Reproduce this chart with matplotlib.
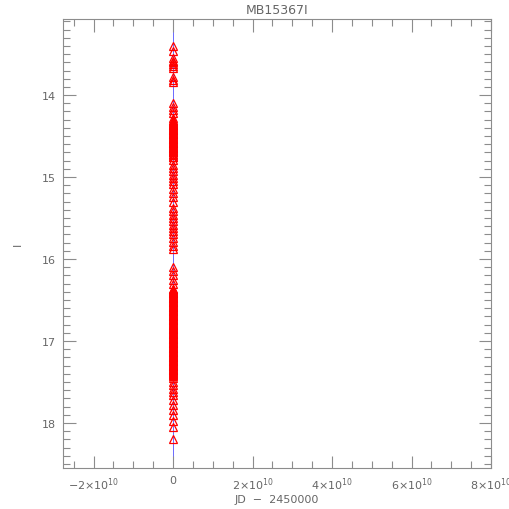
import matplotlib.pyplot as plt
from matplotlib.ticker import FixedLocator, MultipleLocator

# I-band magnitudes (all epochs sit at x ~ 0 on this scale)
i_mag = [13.40, 13.46,
         13.55, 13.58, 13.60, 13.62, 13.64, 13.67,
         13.78, 13.81, 13.84,
         14.10, 14.14, 14.18, 14.22,
         14.28, 14.30, 14.31, 14.33, 14.34, 14.35, 14.36, 14.37, 14.38, 14.39,
         14.40, 14.41, 14.42, 14.43, 14.44, 14.45, 14.46, 14.47, 14.48, 14.49,
         14.50, 14.51, 14.52, 14.53, 14.54, 14.55, 14.56, 14.57, 14.58, 14.59,
         14.60, 14.61, 14.62, 14.63, 14.64, 14.65, 14.66, 14.67, 14.68, 14.69,
         14.70, 14.72, 14.73, 14.75, 14.76, 14.79,
         14.85, 14.89, 14.93, 14.97, 15.01, 15.05, 15.09, 15.14, 15.19, 15.24, 15.30,
         15.38, 15.42, 15.46, 15.50, 15.54, 15.58, 15.62, 15.66, 15.70, 15.74,
         15.79, 15.84, 15.88,
         16.10, 16.15, 16.20, 16.25, 16.30,
         16.36, 16.37, 16.38, 16.39, 16.40, 16.41, 16.42, 16.43, 16.44, 16.45,
         16.46, 16.47, 16.48, 16.49, 16.50, 16.51, 16.52, 16.53, 16.54, 16.55,
         16.56, 16.57, 16.58, 16.59, 16.60, 16.61, 16.62, 16.63, 16.64, 16.65,
         16.66, 16.67, 16.68, 16.69, 16.70, 16.71, 16.72, 16.73, 16.74, 16.75,
         16.76, 16.77, 16.78, 16.79, 16.80, 16.81, 16.82, 16.83, 16.84, 16.85,
         16.86, 16.87, 16.88, 16.89, 16.90, 16.91, 16.92, 16.93, 16.94, 16.95,
         16.96, 16.97, 16.98, 16.99, 17.00, 17.01, 17.02, 17.03, 17.04, 17.05,
         17.06, 17.07, 17.08, 17.09, 17.10, 17.11, 17.12, 17.13, 17.14, 17.15,
         17.16, 17.17, 17.18, 17.19, 17.20, 17.21, 17.22, 17.23, 17.24, 17.25,
         17.26, 17.27, 17.28, 17.29, 17.30, 17.31, 17.32, 17.33, 17.34, 17.35,
         17.36, 17.37, 17.38, 17.39, 17.40, 17.42, 17.43, 17.45,
         17.50, 17.54, 17.58, 17.62, 17.66, 17.72, 17.78, 17.84, 17.90,
         17.98, 18.05, 18.20]
jd = [0.0] * len(i_mag)

xticks = [-2e10, 0, 2e10, 4e10, 6e10, 8e10]
xtick_labels = [r'$\mathregular{-2{\times}10^{10}}$', '0',
                r'$\mathregular{2{\times}10^{10}}$', r'$\mathregular{4{\times}10^{10}}$',
                r'$\mathregular{6{\times}10^{10}}$', r'$\mathregular{8{\times}10^{10}}$']
yticks = [14, 15, 16, 17, 18]

axis_grey = '#8c8c8c'
text_grey = '#666666'
plt.rcParams['font.family'] = ['DejaVu Sans']

fig = plt.figure(figsize=(5.1, 5.1), dpi=100)
ax = fig.add_axes([0.1235, 0.0804, 0.8395, 0.8806])

ax.axvline(0, color='#6a6aff', lw=0.7, zorder=1)
ax.plot(jd, i_mag, linestyle='none', marker='^', markersize=6,
        markerfacecolor='none', markeredgecolor='red', markeredgewidth=0.9, zorder=2)

ax.set_xlim(-2.77e10, 8e10)
ax.set_ylim(18.55, 13.07)

ax.xaxis.set_major_locator(FixedLocator(xticks))
ax.set_xticklabels(xtick_labels)
ax.xaxis.set_minor_locator(MultipleLocator(5e9))
ax.yaxis.set_major_locator(FixedLocator(yticks))
ax.yaxis.set_minor_locator(MultipleLocator(0.1))

ax.tick_params(which='both', direction='in', top=True, right=True,
               color=axis_grey, labelcolor=text_grey, labelsize=8, width=0.8)
ax.tick_params(which='major', length=9, pad=5)
ax.tick_params(which='minor', length=5)
for s in ax.spines.values():
    s.set_color(axis_grey)
    s.set_linewidth(0.8)

ax.set_title('MB15367I', color=text_grey, fontsize=9, pad=4)
ax.set_xlabel('JD  \u2212  2450000', color=text_grey, fontsize=8, labelpad=2)
ax.set_ylabel('I', color=text_grey, fontsize=8, rotation=90, labelpad=14)

fig.savefig('out.png', dpi=100)
